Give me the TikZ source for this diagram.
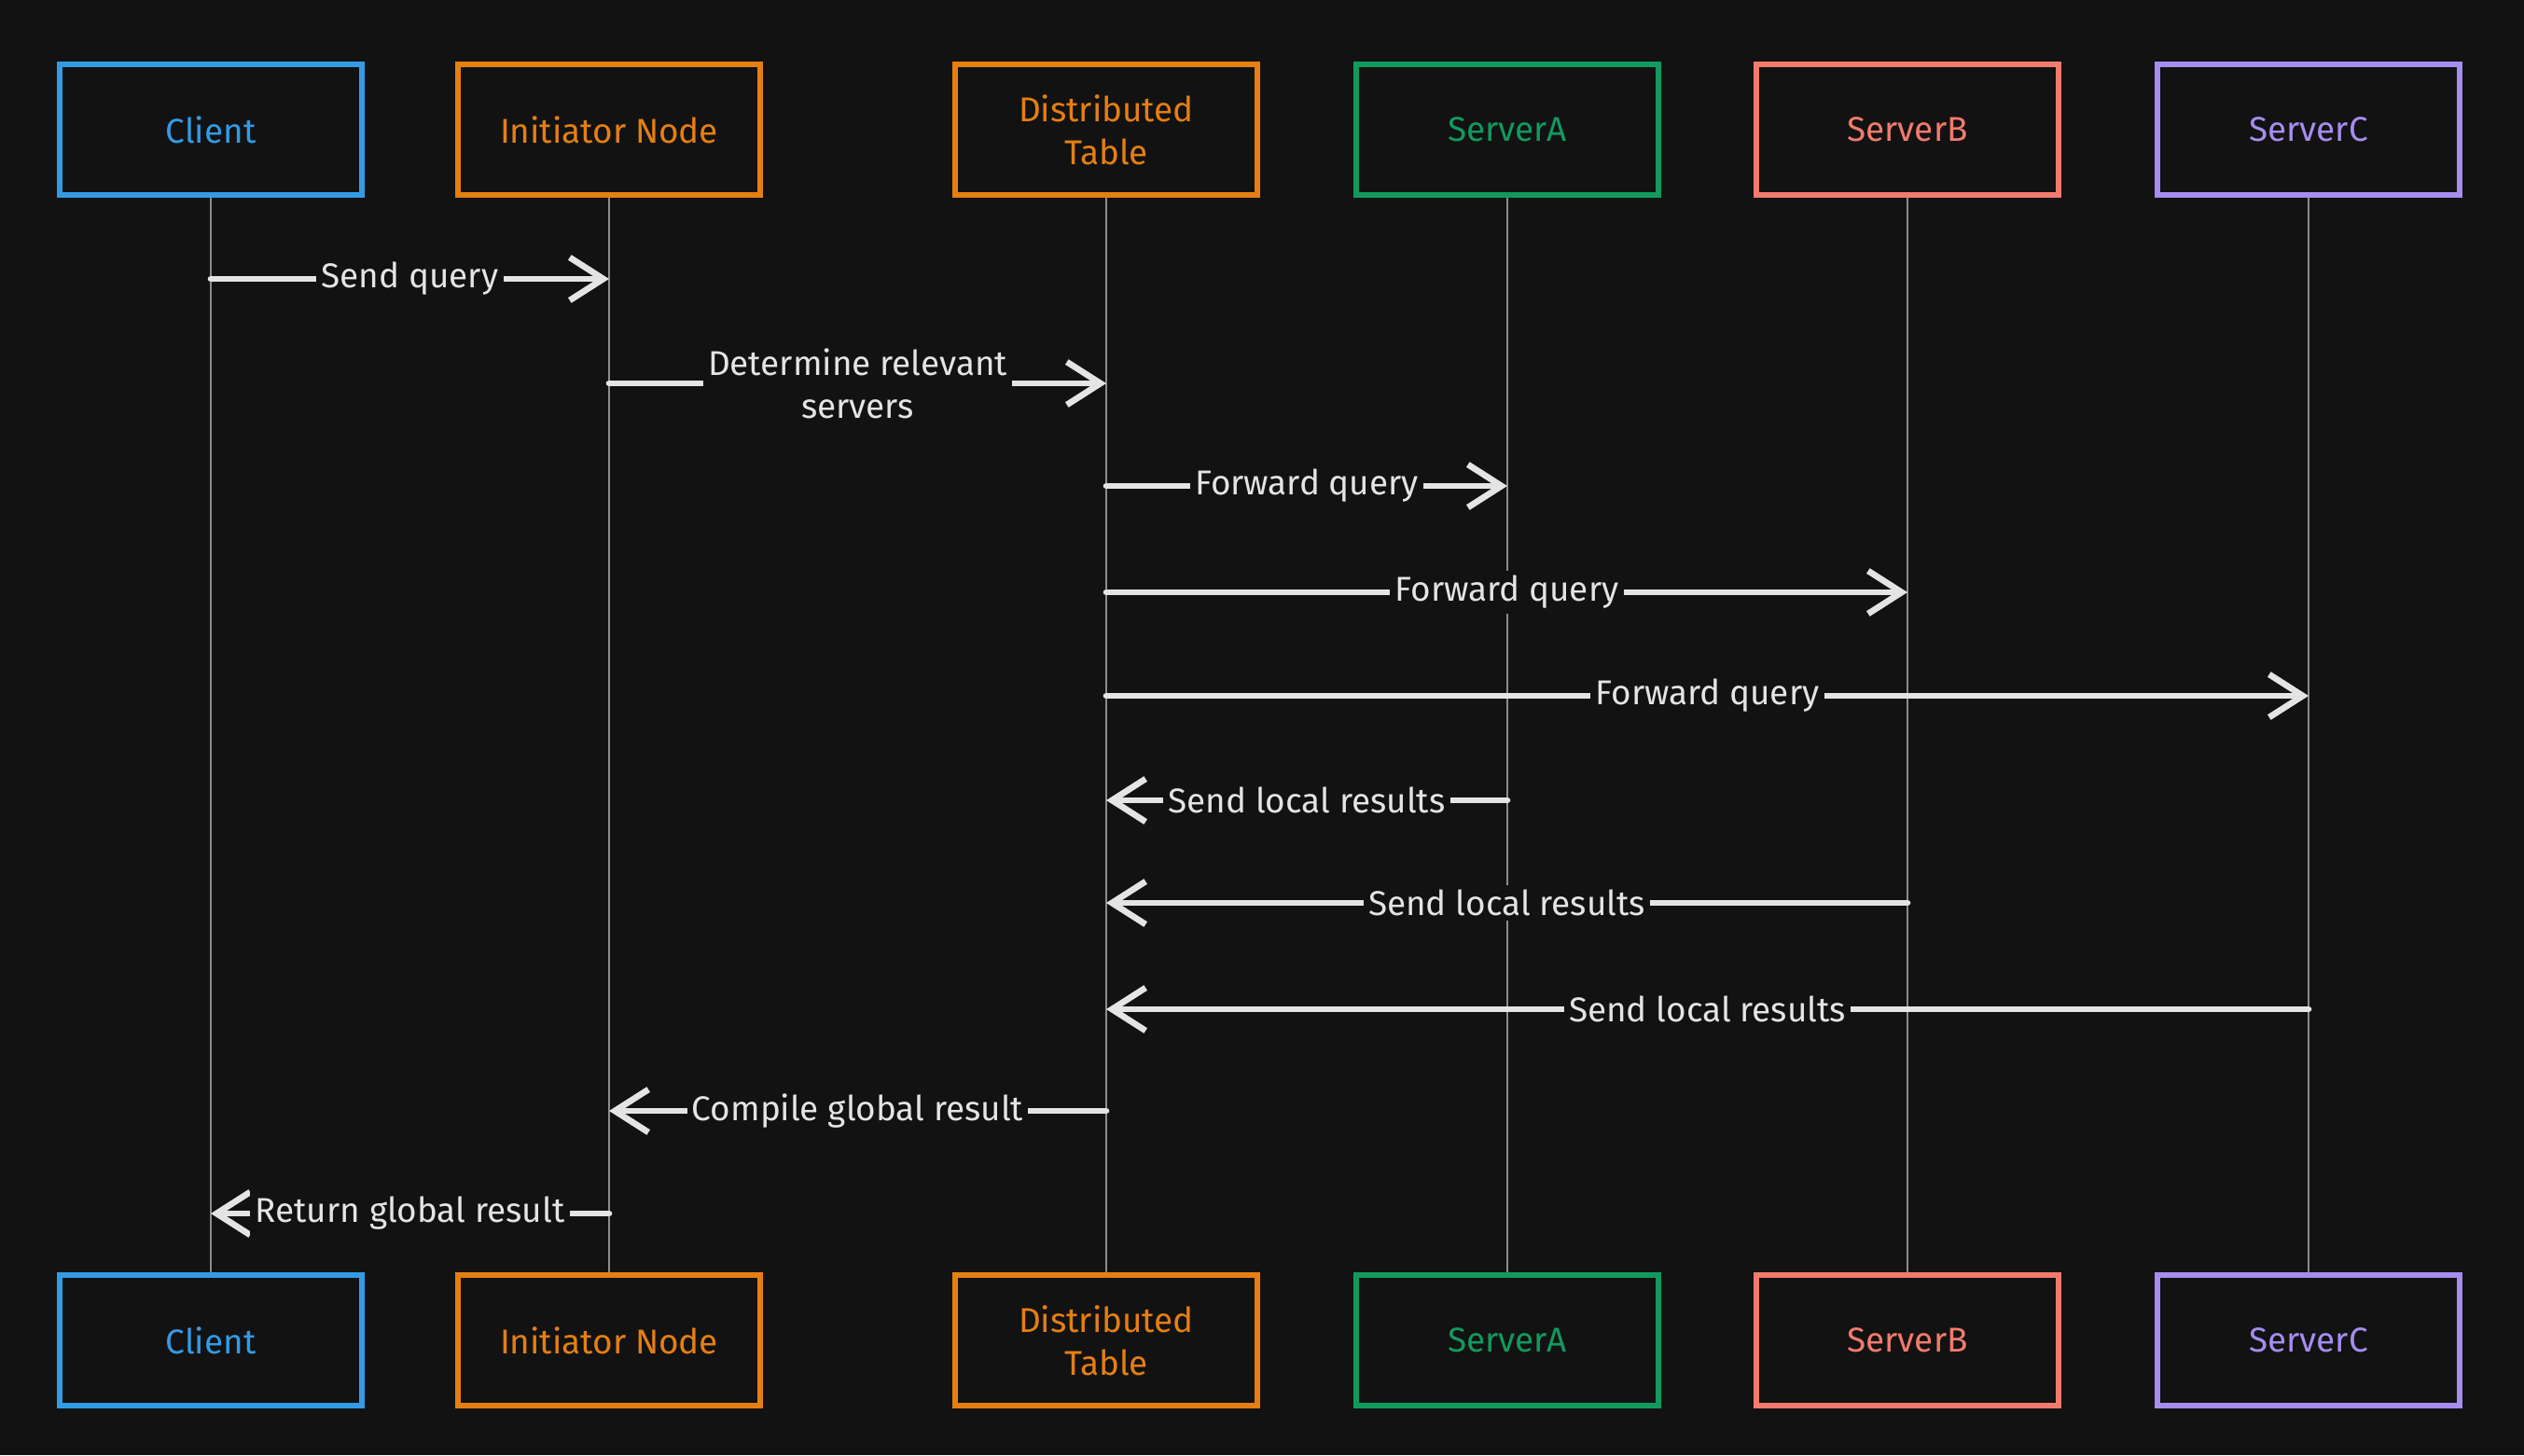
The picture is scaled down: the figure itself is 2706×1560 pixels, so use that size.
\documentclass[tikz,border=0pt]{standalone}
\usepackage{fontspec}
\setmainfont{Fira Sans}
\usetikzlibrary{arrows.meta}
\definecolor{bgc}{HTML}{121212}
\definecolor{cblue}{HTML}{339BE4}
\definecolor{corange}{HTML}{E57F12}
\definecolor{cgreen}{HTML}{119A5E}
\definecolor{csalmon}{HTML}{F27B6E}
\definecolor{cpurple}{HTML}{A68DF0}
\definecolor{cwhite}{HTML}{E4E4E4}
\definecolor{cline}{HTML}{8C8C8C}
\tikzset{
  actor/.style={draw=#1, text=#1, line width=1.5pt, fill=bgc,
    minimum width=3.24cm, minimum height=1.40cm, align=center,
    font=\fontsize{10.5}{13}\selectfont},
  life/.style={draw=cline, line width=0.6pt},
  msg/.style={draw=cwhite, line width=1.9pt, line cap=round,
    -{Straight Barb[length=3.6mm, width=4.6mm, line width=1.9pt]}},
  lbl/.style={fill=bgc, text=cwhite, inner sep=1.5pt, align=center,
    font=\fontsize{10.5}{13}\selectfont}
}
\begin{document}
\begin{tikzpicture}[x=0.1mm, y=-0.1mm]
  \fill[bgc] (0,0) rectangle (2706,1560);
  \useasboundingbox (0,0) rectangle (2706,1560);

  % participants, top row
  \node[actor=cblue]   (cl1) at (226,139)  {Client};
  \node[actor=corange] (in1) at (653,139)  {Initiator Node};
  \node[actor=corange] (dt1) at (1186,139) {Distributed\\Table};
  \node[actor=cgreen]  (sa1) at (1616,139) {ServerA};
  \node[actor=csalmon] (sb1) at (2045,139) {ServerB};
  \node[actor=cpurple] (sc1) at (2475,139) {ServerC};
  % participants, bottom row
  \node[actor=cblue]   (cl2) at (226,1437)  {Client};
  \node[actor=corange] (in2) at (653,1437)  {Initiator Node};
  \node[actor=corange] (dt2) at (1186,1437) {Distributed\\Table};
  \node[actor=cgreen]  (sa2) at (1616,1437) {ServerA};
  \node[actor=csalmon] (sb2) at (2045,1437) {ServerB};
  \node[actor=cpurple] (sc2) at (2475,1437) {ServerC};

  % lifelines
  \foreach \p in {cl,in,dt,sa,sb,sc}
    \draw[life] (\p1.south) -- (\p2.north);

  % message anchors on the lifelines
  \coordinate (m1a) at (cl1.south |- 0,299);
  \coordinate (m1b) at (in1.south |- 0,299);
  \coordinate (m2a) at (in1.south |- 0,411);
  \coordinate (m2b) at (dt1.south |- 0,411);
  \coordinate (m3a) at (dt1.south |- 0,521);
  \coordinate (m3b) at (sa1.south |- 0,521);
  \coordinate (m4a) at (dt1.south |- 0,635);
  \coordinate (m4b) at (sb1.south |- 0,635);
  \coordinate (m5a) at (dt1.south |- 0,746);
  \coordinate (m5b) at (sc1.south |- 0,746);
  \coordinate (m6a) at (sa1.south |- 0,858);
  \coordinate (m6b) at (dt1.south |- 0,858);
  \coordinate (m7a) at (sb1.south |- 0,968);
  \coordinate (m7b) at (dt1.south |- 0,968);
  \coordinate (m8a) at (sc1.south |- 0,1082);
  \coordinate (m8b) at (dt1.south |- 0,1082);
  \coordinate (m9a) at (dt1.south |- 0,1191);
  \coordinate (m9b) at (in1.south |- 0,1191);
  \coordinate (m10a) at (in1.south |- 0,1301);
  \coordinate (m10b) at (cl1.south |- 0,1301);

  % messages
  \draw[msg] (m1a) -- node[lbl] {Send query} (m1b);
  \draw[msg] (m2a) -- node[lbl] {Determine relevant\\servers} (m2b);
  \draw[msg] (m3a) -- node[lbl] {Forward query} (m3b);
  \draw[msg] (m4a) -- node[lbl] {Forward query} (m4b);
  \draw[msg] (m5a) -- node[lbl] {Forward query} (m5b);
  \draw[msg] (m6a) -- node[lbl] {Send local results} (m6b);
  \draw[msg] (m7a) -- node[lbl] {Send local results} (m7b);
  \draw[msg] (m8a) -- node[lbl] {Send local results} (m8b);
  \draw[msg] (m9a) -- node[lbl] {Compile global result} (m9b);
  \draw[msg] (m10a) -- node[lbl] {Return global result} (m10b);
\end{tikzpicture}
\end{document}
